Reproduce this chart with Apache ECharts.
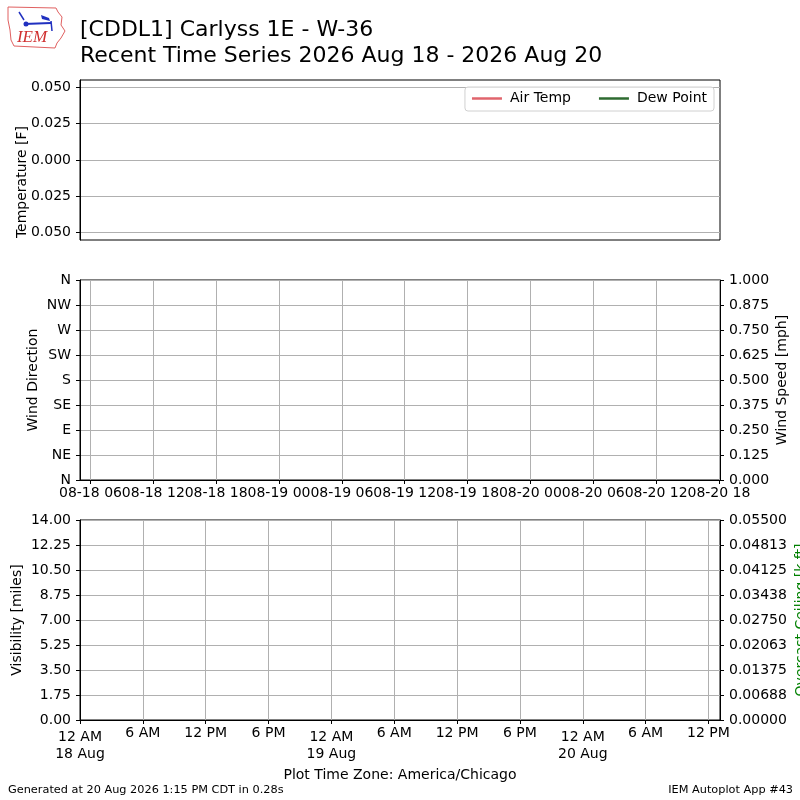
<!DOCTYPE html>
<html>
<head>
<meta charset="utf-8">
<script src="https://cdn.jsdelivr.net/npm/echarts@6/dist/echarts.min.js"></script>
<style>
html,body{margin:0;padding:0;background:#fff;}
#chart{width:800px;height:800px;}
</style>
</head>
<body>
<div id="chart"></div>
<script>
// ---- data (hours since 2026-08-18 00:00 CDT) ----
const xMaxHours = 61.1;
const airTemp = [];      // no observations in period
const dewPoint = [];
const windDir = [];
const windSpeed = [];
const visibility = [];
const ceiling = [];

const tempTicks = [0.05, 0.025, 0, -0.025, -0.05];
const tempTickLabels = ['0.050', '0.025', '0.000', '0.025', '0.050'];

const dirLabels = ['N', 'NE', 'E', 'SE', 'S', 'SW', 'W', 'NW', 'N'];

const windTickHours = [1, 7, 13, 19, 25, 31, 37, 43, 49, 55, 61];
const windTickLabels = ['08-18 06', '08-18 12', '08-18 18', '08-19 00', '08-19 06', '08-19 12',
  '08-19 18', '08-20 00', '08-20 06', '08-20 12', '08-20 18'];

const visTickHours = [0, 6, 12, 18, 24, 30, 36, 42, 48, 54, 60];
const visTickLabels = ['12 AM\n18 Aug', '6 AM', '12 PM', '6 PM', '12 AM\n19 Aug', '6 AM', '12 PM',
  '6 PM', '12 AM\n20 Aug', '6 AM', '12 PM'];

const ceilTickLabels = ['0.00000', '0.00688', '0.01375', '0.02063', '0.02750', '0.03438', '0.04125', '0.04813', '0.05500'];

// ---- chart ----
const FONT = 'DejaVu Sans';
const gridLine = { show: true, lineStyle: { color: '#b0b0b0', width: 1 } };
const axLine = { show: true, onZero: false, lineStyle: { color: '#000', width: 1 } };
const axTick = { show: true, length: 4, lineStyle: { color: '#000', width: 1 } };
const lblStyle = { color: '#000', fontFamily: FONT, fontSize: 14 };

const chart = echarts.init(document.getElementById('chart'), null, { renderer: 'canvas' });

const grids = [
  { left: 80, right: 80, top: 80, height: 160 },
  { left: 80, right: 80, top: 280, height: 200 },
  { left: 80, right: 80, top: 520, height: 200 }
].map(g => Object.assign({ show: true, borderColor: '#000', borderWidth: 1, backgroundColor: 'transparent' }, g));

const option = {
  animation: false,
  backgroundColor: '#fff',
  textStyle: { fontFamily: FONT },
  grid: grids,
  legend: {
    data: ['Air Temp', 'Dew Point'],
    right: 86, top: 87,
    padding: [3, 7, 4, 7],
    itemGap: 28, itemWidth: 30, itemHeight: 2.5,
    icon: 'rect',
    borderColor: '#d0d0d0', borderWidth: 1, borderRadius: 3,
    backgroundColor: 'rgba(255,255,255,0.8)',
    textStyle: { color: '#000', fontFamily: FONT, fontSize: 14, padding: [0, 0, 0, 3], lineHeight: 17 }
  },
  xAxis: [
    { gridIndex: 0, type: 'value', min: 0, max: xMaxHours, axisLine: { show: false },
      axisTick: { show: false }, axisLabel: { show: false }, splitLine: { show: false } },
    { gridIndex: 1, type: 'value', min: 0, max: xMaxHours, axisLine: axLine,
      axisTick: Object.assign({ customValues: windTickHours }, axTick),
      axisLabel: Object.assign({ customValues: windTickHours, margin: 6,
        formatter: v => windTickLabels[windTickHours.indexOf(v)] || '' }, lblStyle),
      splitLine: gridLine },
    { gridIndex: 2, type: 'value', min: 0, max: xMaxHours, axisLine: axLine,
      axisTick: Object.assign({ customValues: visTickHours }, axTick),
      axisLabel: Object.assign({ customValues: visTickHours, margin: 6, lineHeight: 15,
        formatter: v => {
          const s = visTickLabels[visTickHours.indexOf(v)] || '';
          if (s.indexOf('\n') >= 0) {
            const p = s.split('\n');
            return '{a|' + p[0] + '}\n{b|' + p[1] + '}';
          }
          return s;
        },
        rich: { a: { lineHeight: 22, fontSize: 14, fontFamily: FONT, color: '#000' },
                b: { lineHeight: 12, fontSize: 14, fontFamily: FONT, color: '#000' } }
      }, lblStyle),
      splitLine: gridLine }
  ],
  yAxis: [
    { gridIndex: 0, type: 'value', min: -0.055, max: 0.055, axisLine: axLine,
      axisTick: Object.assign({ customValues: tempTicks }, axTick),
      axisLabel: Object.assign({ customValues: tempTicks, margin: 9,
        formatter: v => tempTickLabels[tempTicks.indexOf(v)] || '' }, lblStyle),
      splitLine: gridLine },
    { gridIndex: 1, type: 'value', min: 0, max: 360, interval: 45, axisLine: axLine, axisTick: axTick,
      axisLabel: Object.assign({ margin: 9, formatter: v => dirLabels[Math.round(v / 45)] }, lblStyle),
      splitLine: gridLine },
    { gridIndex: 1, type: 'value', position: 'right', min: 0, max: 1, interval: 0.125, axisLine: axLine, axisTick: axTick,
      axisLabel: Object.assign({ margin: 9, formatter: v => v.toFixed(3) }, lblStyle),
      splitLine: { show: false } },
    { gridIndex: 2, type: 'value', min: 0, max: 14, interval: 1.75, axisLine: axLine, axisTick: axTick,
      axisLabel: Object.assign({ margin: 9, formatter: v => v.toFixed(2) }, lblStyle),
      splitLine: gridLine },
    { gridIndex: 2, type: 'value', position: 'right', min: 0, max: 0.055, interval: 0.006875, axisLine: axLine, axisTick: axTick,
      axisLabel: Object.assign({ margin: 9, formatter: v => ceilTickLabels[Math.round(v / 0.006875)] }, lblStyle),
      splitLine: { show: false } }
  ],
  series: [
    { name: 'Air Temp', type: 'line', xAxisIndex: 0, yAxisIndex: 0, data: airTemp, symbol: 'none',
      itemStyle: { color: '#e0646c' }, lineStyle: { color: '#e0646c', width: 2 } },
    { name: 'Dew Point', type: 'line', xAxisIndex: 0, yAxisIndex: 0, data: dewPoint, symbol: 'none',
      itemStyle: { color: '#2e6b30' }, lineStyle: { color: '#2e6b30', width: 2 } },
    { name: 'Wind Direction', type: 'scatter', xAxisIndex: 1, yAxisIndex: 1, data: windDir },
    { name: 'Wind Speed', type: 'line', xAxisIndex: 1, yAxisIndex: 2, data: windSpeed, symbol: 'none' },
    { name: 'Visibility', type: 'line', xAxisIndex: 2, yAxisIndex: 3, data: visibility, symbol: 'none' },
    { name: 'Overcast Ceiling', type: 'line', xAxisIndex: 2, yAxisIndex: 4, data: ceiling, symbol: 'none' }
  ],
  graphic: [
    // logo
    { type: 'polygon', shape: { points: [[8,7],[56,8],[58,12],[62,17],[61,25],[65,31],[61,38],[57,43],[55,48],[14,46],[11,40],[10,30],[8,20]] },
      style: { fill: '#fff', stroke: '#e06060', lineWidth: 1 } },
    { type: 'line', shape: { x1: 24, y1: 24, x2: 51, y2: 23 }, style: { stroke: '#2030c0', lineWidth: 2 } },
    { type: 'line', shape: { x1: 19, y1: 12, x2: 24, y2: 20 }, style: { stroke: '#2030c0', lineWidth: 1.5 } },
    { type: 'line', shape: { x1: 51, y1: 21, x2: 52, y2: 31 }, style: { stroke: '#2030c0', lineWidth: 1.5 } },
    { type: 'polygon', shape: { points: [[41,15],[49,18],[50,21],[42,19]] }, style: { fill: '#2030c0' } },
    { type: 'circle', shape: { cx: 26, cy: 24, r: 2.5 }, style: { fill: '#2030c0' } },
    { type: 'text', x: 32, y: 38, style: { text: 'IEM', fill: '#d03030', font: 'italic 17px "Liberation Serif"', align: 'center', verticalAlign: 'middle' } },
    // titles
    { type: 'text', x: 80, y: 30, style: { text: '[CDDL1] Carlyss 1E - W-36', fill: '#000', font: '22px "DejaVu Sans"', verticalAlign: 'middle' } },
    { type: 'text', x: 80, y: 56, style: { text: 'Recent Time Series 2026 Aug 18 - 2026 Aug 20', fill: '#000', font: '22px "DejaVu Sans"', verticalAlign: 'middle' } },
    // axis names
    { type: 'text', x: 22, y: 182, rotation: Math.PI / 2, style: { text: 'Temperature [F]', fill: '#000', font: '14px "DejaVu Sans"', align: 'center', verticalAlign: 'middle' } },
    { type: 'text', x: 33, y: 380, rotation: Math.PI / 2, style: { text: 'Wind Direction', fill: '#000', font: '14px "DejaVu Sans"', align: 'center', verticalAlign: 'middle' } },
    { type: 'text', x: 782, y: 380, rotation: Math.PI / 2, style: { text: 'Wind Speed [mph]', fill: '#000', font: '14px "DejaVu Sans"', align: 'center', verticalAlign: 'middle' } },
    { type: 'text', x: 17, y: 620, rotation: Math.PI / 2, style: { text: 'Visibility [miles]', fill: '#000', font: '14px "DejaVu Sans"', align: 'center', verticalAlign: 'middle' } },
    { type: 'text', x: 801, y: 620, rotation: Math.PI / 2, style: { text: 'Overcast Ceiling [k ft]', fill: '#008000', font: '14px "DejaVu Sans"', align: 'center', verticalAlign: 'middle' } },
    // footer
    { type: 'text', x: 400, y: 775, style: { text: 'Plot Time Zone: America/Chicago', fill: '#000', font: '14px "DejaVu Sans"', align: 'center', verticalAlign: 'middle' } },
    { type: 'text', x: 8, y: 790, style: { text: 'Generated at 20 Aug 2026 1:15 PM CDT in 0.28s', fill: '#000', font: '11.3px "DejaVu Sans"', verticalAlign: 'middle' } },
    { type: 'text', x: 793, y: 790, style: { text: 'IEM Autoplot App #43', fill: '#000', font: '11.3px "DejaVu Sans"', align: 'right', verticalAlign: 'middle' } }
  ]
};
chart.setOption(option);
</script>
</body>
</html>
